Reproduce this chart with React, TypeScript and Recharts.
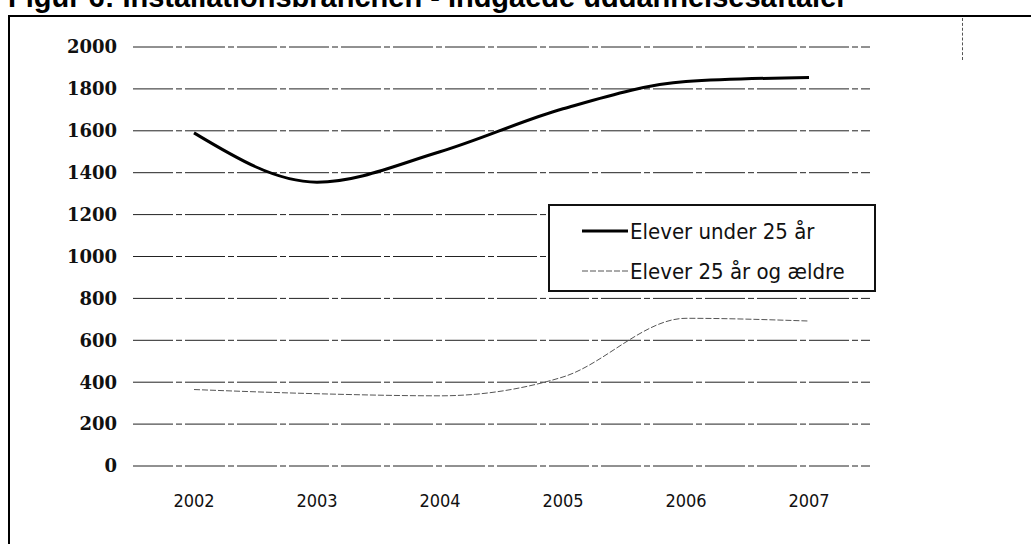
import React from 'react';
import { LineChart, Line, XAxis, YAxis, CartesianGrid } from 'recharts';

// years on the x axis
const years = ['2002', '2003', '2004', '2005', '2006', '2007'];
// Elever under 25 år
const under25 = [1590, 1355, 1500, 1705, 1835, 1855];
// Elever 25 år og ældre
const over25 = [365, 345, 335, 425, 705, 692];
const yTicks = [0, 200, 400, 600, 800, 1000, 1200, 1400, 1600, 1800, 2000];
const seriesNames = ['Elever under 25 år', 'Elever 25 år og ældre'];

const data = years.map((year, i) => ({ year, under: under25[i], over: over25[i] }));

const legendStyles = [
  { stroke: '#000', width: 3, dash: undefined },
  { stroke: '#555', width: 1, dash: '6 2' },
];

function ChartLegend() {
  return (
    <div
      style={{
        position: 'absolute',
        left: 548,
        top: 204,
        border: '2px solid #111',
        background: '#fff',
        width: 328,
        height: 88,
        boxSizing: 'border-box',
        padding: '5px 0 0 32px',
        fontFamily: '"DejaVu Sans Condensed", "DejaVu Sans", sans-serif',
        fontSize: 22,
        color: '#111',
      }}
    >
      {seriesNames.map((name, i) => (
        <div key={name} style={{ display: 'flex', alignItems: 'center', height: 40 }}>
          <svg width={46} height={10} style={{ marginRight: 2 }}>
            <line
              x1={0}
              y1={5}
              x2={46}
              y2={5}
              stroke={legendStyles[i].stroke}
              strokeWidth={legendStyles[i].width}
              strokeDasharray={legendStyles[i].dash}
            />
          </svg>
          <span>{name}</span>
        </div>
      ))}
    </div>
  );
}

export default function App() {
  return (
    <div style={{ position: 'absolute', left: 0, top: 0, width: 1031, height: 544, overflow: 'hidden', background: '#fff' }}>
      <div
        style={{
          position: 'absolute',
          left: 8,
          top: -17,
          fontFamily: '"Liberation Sans", Arial, sans-serif',
          fontWeight: 'bold',
          fontSize: 29,
          lineHeight: '29px',
          whiteSpace: 'nowrap',
          color: '#000',
        }}
      >
        Figur 6: Installationsbranchen - Indgåede uddannelsesaftaler
      </div>
      <div style={{ position: 'absolute', left: 8, top: 15, width: 1023, height: 2, background: '#000' }} />
      <div style={{ position: 'absolute', left: 8, top: 15, width: 2, height: 529, background: '#000' }} />
      <div style={{ position: 'absolute', left: 962, top: 18, width: 0, height: 42, borderLeft: '1px dashed #555' }} />
      <div style={{ position: 'absolute', left: 0, top: 0 }}>
        <LineChart width={1031} height={544} data={data} margin={{ top: 47, right: 161, bottom: 0, left: 0 }}>
          <CartesianGrid vertical={false} stroke="#222" strokeDasharray="40 3 6 3" />
          <XAxis
            dataKey="year"
            axisLine={false}
            tickLine={false}
            tickSize={0}
            tickMargin={28}
            height={78}
            padding={{ left: 61, right: 61 }}
            tick={{ fill: '#111', fontSize: 18, fontFamily: '"DejaVu Sans Condensed", "DejaVu Sans", sans-serif' }}
          />
          <YAxis
            domain={[0, 2000]}
            ticks={yTicks}
            interval={0}
            axisLine={false}
            tickLine={false}
            tickSize={0}
            tickMargin={16}
            width={133}
            tick={{ fill: '#111', fontSize: 18, fontWeight: 'bold', fontFamily: '"DejaVu Serif", serif' }}
          />
          <Line
            type="monotone"
            dataKey="under"
            name={seriesNames[0]}
            stroke="#000"
            strokeWidth={3}
            dot={false}
            isAnimationActive={false}
          />
          <Line
            type="monotone"
            dataKey="over"
            name={seriesNames[1]}
            stroke="#555"
            strokeWidth={1}
            strokeDasharray="6 2"
            dot={false}
            isAnimationActive={false}
          />
        </LineChart>
      </div>
      <ChartLegend />
    </div>
  );
}
